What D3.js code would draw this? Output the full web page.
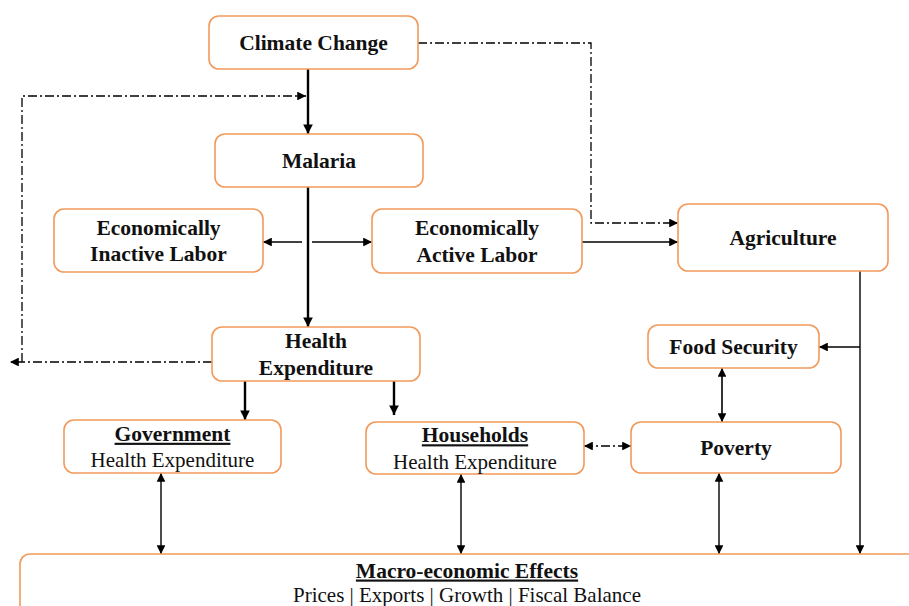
<!DOCTYPE html>
<html>
<head>
<meta charset="utf-8">
<script src="https://cdn.jsdelivr.net/npm/d3@7"></script>
<style>
  body { margin: 0; background: #fff; }
  svg { display: block; font-family: "Liberation Serif", "Times New Roman", serif; }
</style>
</head>
<body>
<svg id="chart"></svg>
<script>
// node ids and their text
const nodeIds = ["cc", "mal", "eil", "eal", "agr", "he", "fs", "gov", "hh", "pov", "mac"];
const titles = ["Climate Change", "Malaria", "Economically|Inactive Labor", "Economically|Active Labor",
  "Agriculture", "Health|Expenditure", "Food Security", "Government", "Households", "Poverty",
  "Macro-economic Effects"];
const subtitles = ["", "", "", "", "", "", "", "Health Expenditure", "Health Expenditure", "",
  "Prices | Exports | Growth | Fiscal Balance"];
const underlined = ["gov", "hh", "mac"];

// box layout (x0, y0, x1, y1)
const layout = {
  cc:  [209, 16, 418, 69],
  mal: [215, 134, 423, 187],
  eil: [54, 209, 263, 272],
  eal: [372, 209, 582, 273],
  agr: [678, 204, 888, 271],
  he:  [212, 327, 420, 381],
  fs:  [648, 325, 819, 368],
  gov: [64, 420, 281, 473],
  hh:  [366, 422, 584, 474],
  pov: [631, 422, 841, 473],
  mac: [20, 554, 960, 660]
};

const width = 909, height = 606;
const orange = "#f29a5c";

const svg = d3.select("#chart").attr("width", width).attr("height", height);

const defs = svg.append("defs");
function marker(id, size) {
  defs.append("marker")
    .attr("id", id)
    .attr("viewBox", "0 0 10 10")
    .attr("refX", 10).attr("refY", 5)
    .attr("markerWidth", size).attr("markerHeight", size * 0.8)
    .attr("markerUnits", "userSpaceOnUse")
    .attr("orient", "auto-start-reverse")
    .append("path")
      .attr("d", "M0,0 L10,5 L0,10 z")
      .attr("fill", "#000");
}
marker("arr", 11);
marker("arrBig", 12);

const box = id => {
  const b = layout[id];
  return { x0: b[0], y0: b[1], x1: b[2], y1: b[3], cx: (b[0] + b[2]) / 2, cy: (b[1] + b[3]) / 2 };
};

// routes between boxes
const trunkX = 308;
const leftRail = 22, leftTip = 10;
const rightRail = 591;
const aggLineX = 860;
const B = Object.fromEntries(nodeIds.map(id => [id, box(id)]));

const links = [
  { pts: [[trunkX, B.cc.y1], [trunkX, B.mal.y0]], w: 2.4, end: true },
  { pts: [[trunkX, B.mal.y1], [trunkX, B.he.y0]], w: 2.4, end: true },
  { pts: [[trunkX - 6, 242], [B.eil.x1, 242]], w: 1.4, end: true },
  { pts: [[trunkX + 4, 242], [B.eal.x0, 242]], w: 1.4, end: true },
  { pts: [[B.eal.x1, 242], [B.agr.x0, 242]], w: 1.4, end: true },
  { pts: [[B.cc.x1, 43], [rightRail, 43], [rightRail, 223], [B.agr.x0, 223]], w: 1.3, end: true, dash: true },
  { pts: [[B.he.x0, 362], [leftTip, 362]], w: 1.3, end: true, dash: true },
  { pts: [[leftRail, 362], [leftRail, 96], [trunkX - 2, 96]], w: 1.3, end: true, dash: true },
  { pts: [[245, B.he.y1], [245, B.gov.y0]], w: 2.4, end: true },
  { pts: [[394, B.he.y1], [394, B.hh.y0 - 7]], w: 2.4, end: true },
  { pts: [[aggLineX, B.agr.y1], [aggLineX, B.mac.y0]], w: 1.4, end: true },
  { pts: [[aggLineX, 347], [B.fs.x1, 347]], w: 1.4, end: true },
  { pts: [[722, B.fs.y1], [722, B.pov.y0]], w: 1.6, end: true, start: true },
  { pts: [[B.hh.x1, 446], [B.pov.x0, 446]], w: 1.3, end: true, start: true, dash: true },
  { pts: [[161, B.gov.y1], [161, B.mac.y0]], w: 1.4, end: true, start: true },
  { pts: [[461, B.hh.y1], [461, B.mac.y0]], w: 1.4, end: true, start: true },
  { pts: [[719, B.pov.y1], [719, B.mac.y0]], w: 1.4, end: true, start: true }
];

const line = d3.line();
svg.append("g").selectAll("path")
  .data(links)
  .join("path")
    .attr("d", d => line(d.pts))
    .attr("fill", "none")
    .attr("stroke", "#000")
    .attr("stroke-width", d => d.w)
    .attr("stroke-dasharray", d => d.dash ? "9,3,2,3" : null)
    .attr("marker-end", d => d.end ? (d.w > 2 ? "url(#arrBig)" : "url(#arr)") : null)
    .attr("marker-start", d => d.start ? "url(#arr)" : null);

// boxes
const nodes = nodeIds.map((id, i) => ({ id, b: B[id], title: titles[i].split("|"), sub: subtitles[i] }));

const g = svg.append("g").selectAll("g")
  .data(nodes)
  .join("g");

g.append("rect")
  .attr("x", d => d.b.x0)
  .attr("y", d => d.b.y0)
  .attr("width", d => d.b.x1 - d.b.x0)
  .attr("height", d => d.b.y1 - d.b.y0)
  .attr("rx", 10)
  .attr("fill", "#fff")
  .attr("stroke", orange)
  .attr("stroke-width", 1.6);

g.each(function(d) {
  const sel = d3.select(this);
  const lines = d.title.map(t => ({ t, bold: true, u: underlined.includes(d.id) }));
  if (d.sub) lines.push({ t: d.sub, bold: false, u: false });
  let lh = 26.5;
  let cy = d.b.cy;
  if (d.id === "mac") { cy = 582.5; lh = 25; }
  const y0 = cy - (lines.length - 1) * lh / 2;
  lines.forEach((l, i) => {
    sel.append("text")
      .attr("x", d.id === "mac" ? 467 : d.b.cx)
      .attr("y", y0 + i * lh)
      .attr("dy", "0.35em")
      .attr("text-anchor", "middle")
      .attr("font-size", l.bold ? 21.5 : 21)
      .attr("font-weight", l.bold ? "bold" : "normal")
      .attr("text-decoration", l.u ? "underline" : null)
      .attr("fill", "#111")
      .text(l.t);
  });
});
</script>
</body>
</html>
